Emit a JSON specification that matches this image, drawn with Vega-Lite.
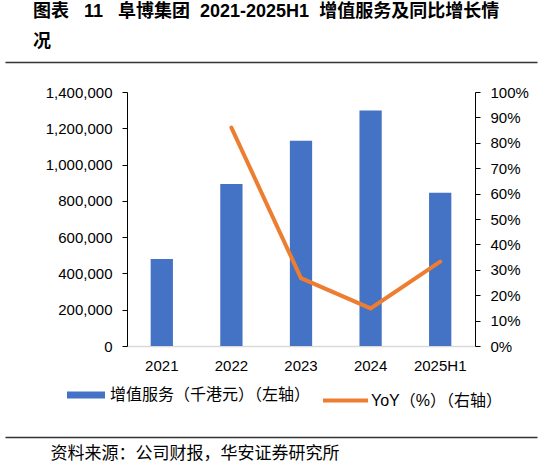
{
  "$schema": "https://vega.github.io/schema/vega-lite/v6.json",
  "width": 532,
  "height": 375,
  "autosize": {"type": "none"},
  "padding": {"left": 5, "top": 62, "right": 5, "bottom": 31},
  "background": "white",
  "config": {
    "view": {"stroke": null},
    "font": "Liberation Sans, Noto Sans CJK SC",
    "axis": {"grid": false, "labelFont": "Liberation Sans", "labelFontSize": 15, "labelColor": "#000", "title": null}
  },
  "title": {
    "text": ["图表\u00a0\u00a0 11\u00a0\u00a0 阜博集团\u00a0 2021-2025H1\u00a0 增值服务及同比增长情", "况"],
    "anchor": "start",
    "frame": "group",
    "dx": 28,
    "dy": 17,
    "offset": 10,
    "baseline": "bottom",
    "lineHeight": 30,
    "font": "Liberation Sans, Noto Sans CJK SC",
    "fontSize": 18,
    "fontWeight": "bold",
    "color": "#000"
  },
  "data": {
    "values": [
      {"year": "2021", "value": 480000, "yoy": null},
      {"year": "2022", "value": 893000, "yoy": 0.86},
      {"year": "2023", "value": 1131000, "yoy": 0.267},
      {"year": "2024", "value": 1298000, "yoy": 0.148},
      {"year": "2025H1", "value": 845000, "yoy": 0.332}
    ]
  },
  "layer": [
    {
      "mark": {"type": "bar"},
      "encoding": {
        "x": {
          "field": "year", "type": "nominal", "sort": null,
          "scale": {"domain": ["2021", "2022", "2023", "2024", "2025H1"], "range": [122, 470], "paddingInner": 0.68, "paddingOuter": 0.34},
          "axis": {"orient": "bottom", "offset": -91, "domainColor": "#d9d9d9", "domainWidth": 1.3, "ticks": false, "tickSize": 0, "labelPadding": 12, "labelAngle": 0, "title": null}
        },
        "y": {
          "field": "value", "type": "quantitative",
          "scale": {"domain": [0, 1400000], "range": [284, 30], "nice": false},
          "axis": {"orient": "left", "offset": -122, "values": [0, 200000, 400000, 600000, 800000, 1000000, 1200000, 1400000], "format": ",d", "domainColor": "#000", "tickColor": "#000", "tickSize": 5, "labelPadding": 10, "title": null}
        },
        "color": {
          "datum": "增值服务（千港元）（左轴）", "type": "nominal",
          "scale": {"range": ["#4472C4"]},
          "legend": {"orient": "none", "legendX": 62, "legendY": 314, "title": null, "padding": 0, "symbolType": "M-1,-0.18L1,-0.18L1,0.18L-1,0.18Z", "symbolSize": 1444, "symbolStrokeWidth": 0, "labelFont": "Noto Sans CJK SC", "labelFontSize": 16, "labelColor": "#000", "labelOffset": 5, "labelLimit": 400}
        }
      }
    },
    {
      "transform": [{"filter": "datum.yoy != null"}],
      "mark": {"type": "line", "strokeWidth": 4, "strokeCap": "round"},
      "encoding": {
        "x": {
          "field": "year", "type": "nominal", "sort": null,
          "scale": {"domain": ["2021", "2022", "2023", "2024", "2025H1"], "range": [122, 470], "paddingInner": 0.68, "paddingOuter": 0.34},
          "axis": null
        },
        "y": {
          "field": "yoy", "type": "quantitative",
          "scale": {"domain": [0, 1], "range": [284, 30], "nice": false},
          "axis": {"orient": "right", "offset": -62, "values": [0, 0.1, 0.2, 0.3, 0.4, 0.5, 0.6, 0.7, 0.8, 0.9, 1], "format": ".0%", "domainColor": "#000", "tickColor": "#000", "tickSize": 5, "labelPadding": 10, "title": null}
        },
        "color": {
          "datum": "YoY（%）（右轴）", "type": "nominal",
          "scale": {"range": ["#ED7D31"]},
          "legend": {"orient": "none", "legendX": 316, "legendY": 314, "title": null, "padding": 0, "symbolType": "stroke", "symbolSize": 2025, "symbolStrokeWidth": 4, "labelFont": "Liberation Sans, Noto Sans CJK SC", "labelFontSize": 16, "labelColor": "#000", "labelOffset": 1, "labelLimit": 400}
        }
      }
    },
    {
      "mark": {"type": "point", "opacity": 0},
      "encoding": {
        "x": {
          "field": "year", "type": "nominal",
          "scale": {"type": "point"},
          "axis": {"orient": "top", "labels": false, "ticks": false, "domainColor": "#333", "domainWidth": 1.3, "title": null}
        }
      }
    },
    {
      "mark": {"type": "point", "opacity": 0},
      "encoding": {
        "x": {
          "field": "year", "type": "nominal",
          "scale": {"type": "point"},
          "axis": {"orient": "bottom", "labels": false, "ticks": false, "domainColor": "#333", "domainWidth": 1.3, "title": "资料来源：公司财报，华安证券研究所", "titleX": 45, "titleY": 16, "titleAlign": "left", "titleBaseline": "middle", "titleAngle": 0, "titleFont": "Noto Sans CJK SC", "titleFontSize": 17, "titleFontWeight": "normal", "titleColor": "#000"}
        }
      }
    }
  ],
  "resolve": {"scale": {"x": "independent", "y": "independent", "color": "independent"}}
}
